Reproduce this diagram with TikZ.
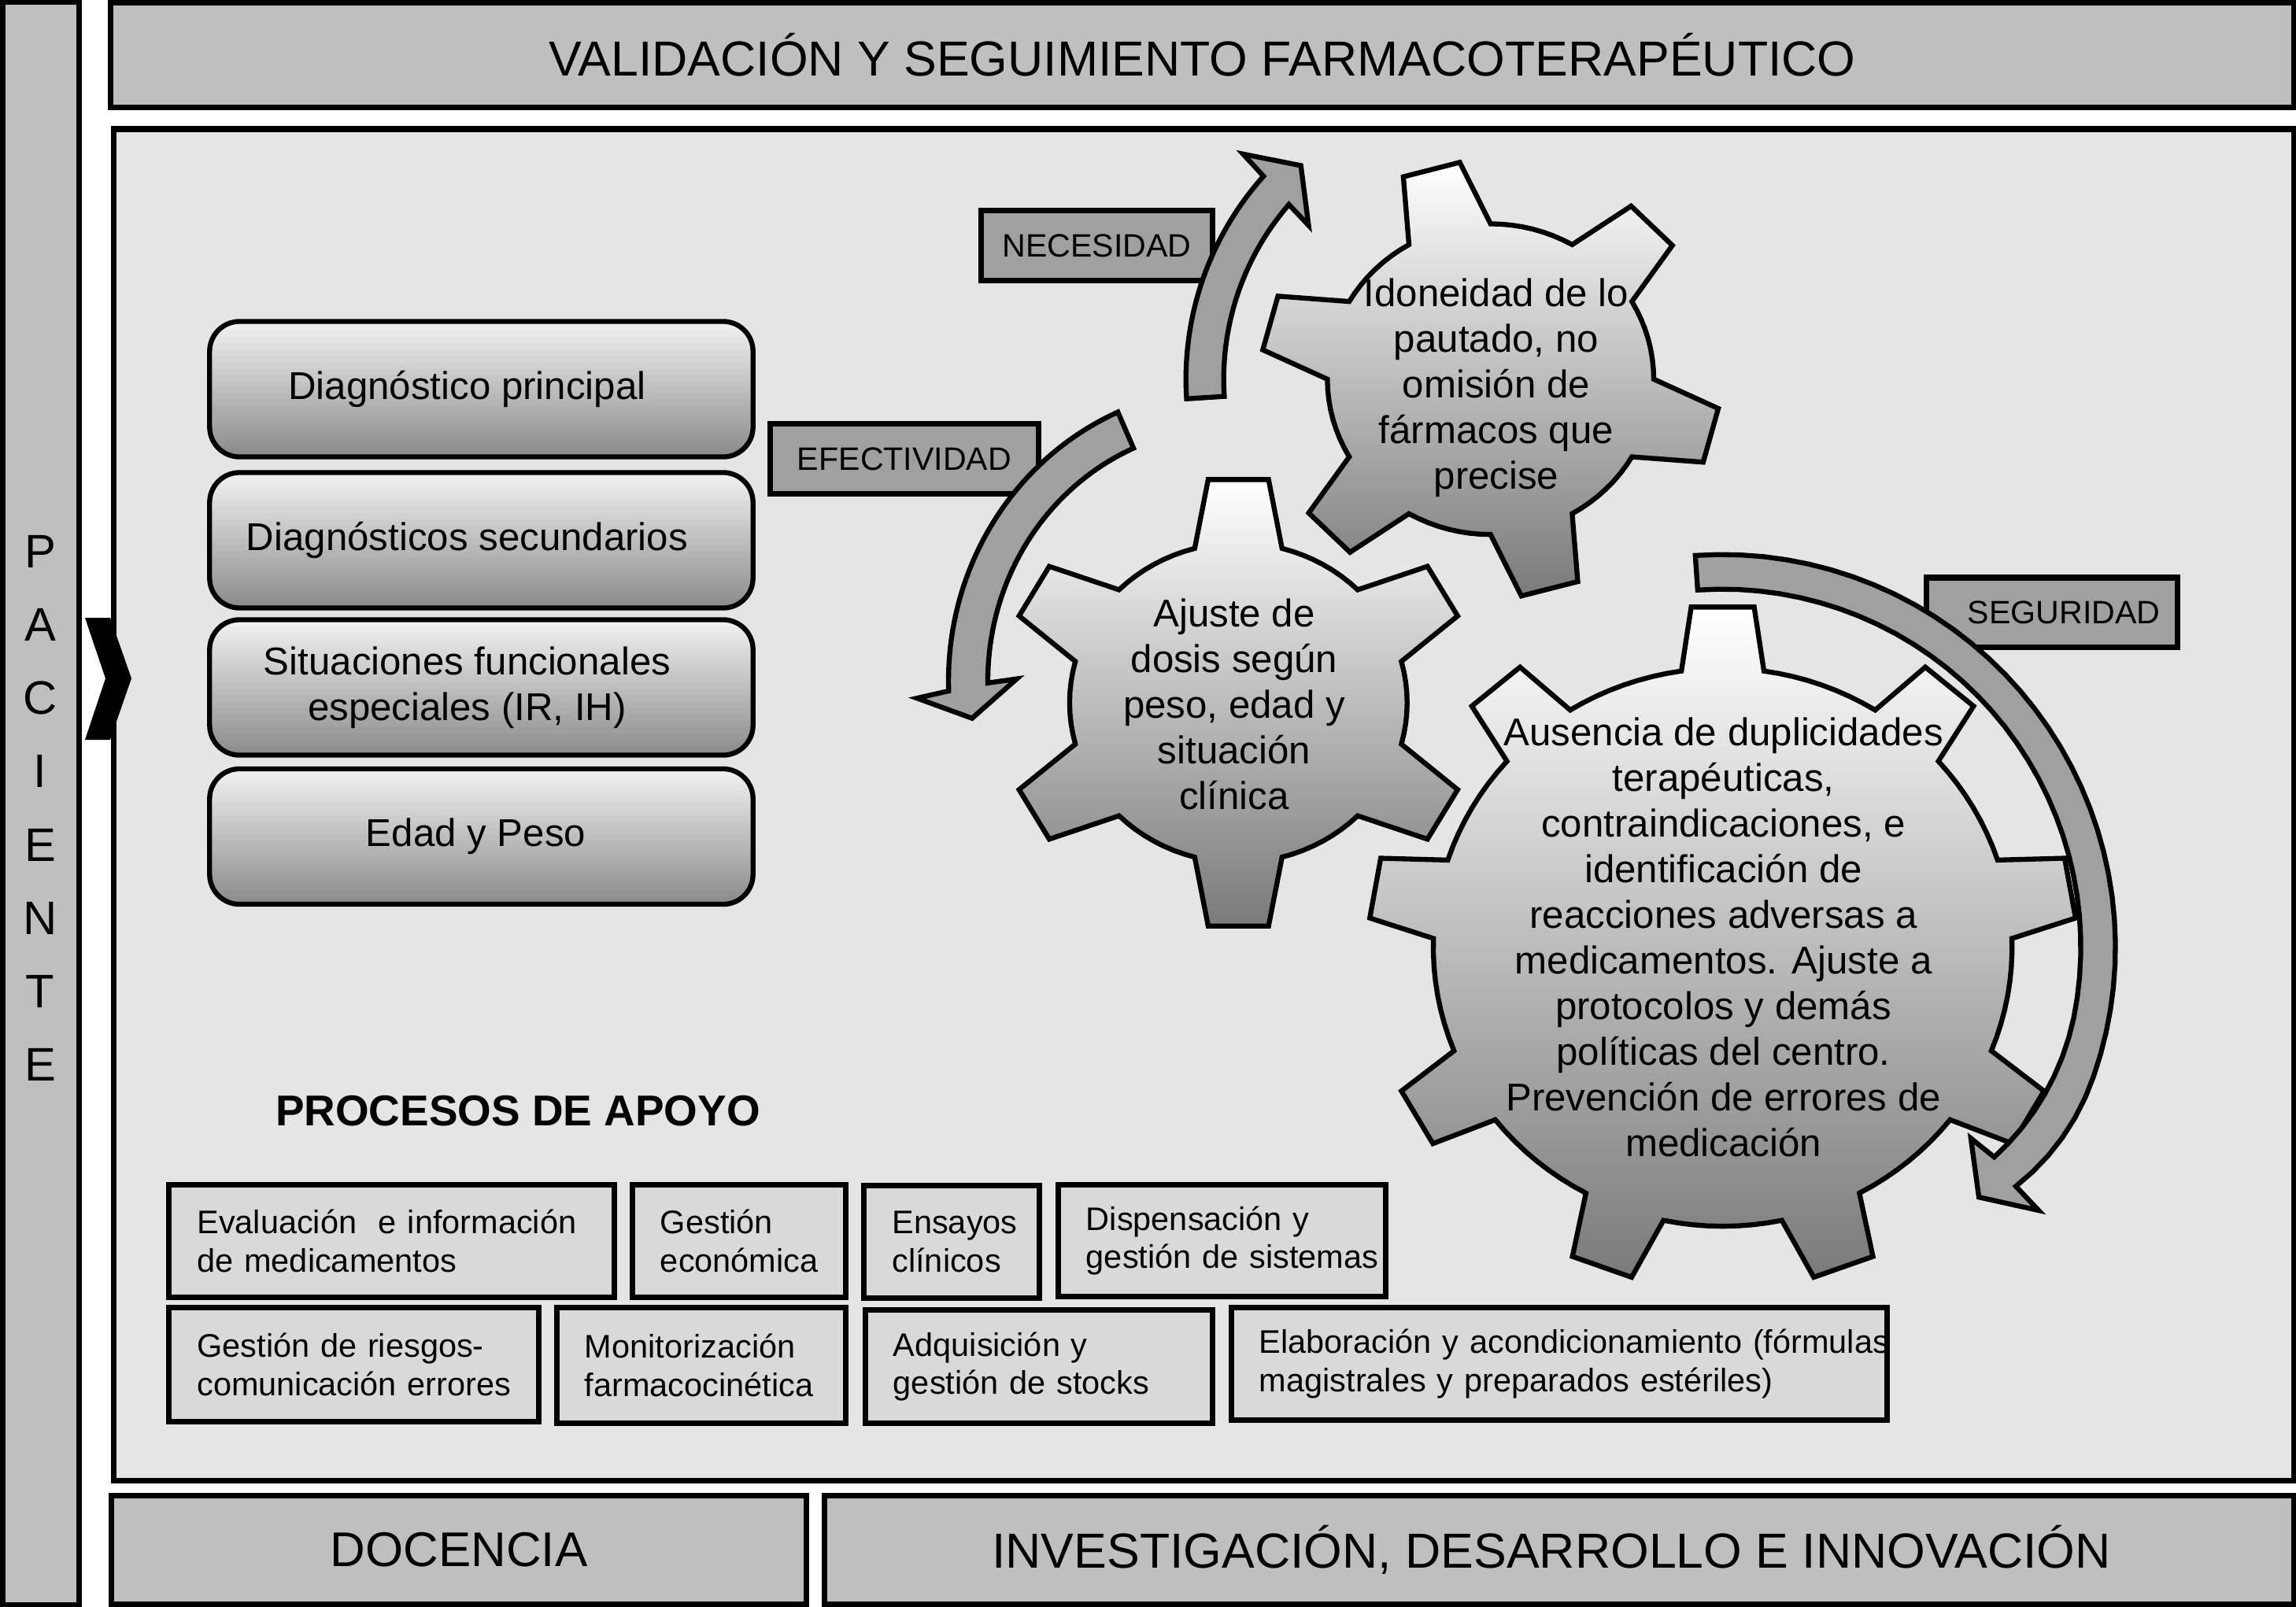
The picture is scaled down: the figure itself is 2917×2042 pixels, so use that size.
\documentclass[tikz,border=0pt]{standalone}
\usepackage{fontspec}
\setmainfont{Liberation Sans}
\usetikzlibrary{calc}
\definecolor{barg}{HTML}{BFBFBF}
\definecolor{panelg}{HTML}{E5E5E5}
\definecolor{procg}{HTML}{D9D9D9}
\definecolor{arrg}{HTML}{A0A0A0}
\definecolor{geartop}{HTML}{FFFFFF}
\definecolor{gearbot}{HTML}{7A7A7A}
\definecolor{boxtop}{HTML}{F2F2F2}
\definecolor{boxbot}{HTML}{8A8A8A}

% gear: #1 cx #2 cy #3 rx #4 ry #5 teeth #6 phase #7 body ratio #8 tip half-angle #9 base half-angle
\newcommand\mygear[9]{%
  \pgfmathsetmacro\gD{360/#5}%
  \pgfmathtruncatemacro\gN{#5-1}%
  \pgfmathsetmacro\gS{(\gD-2*#9)/8}%
  \path[gear] ({#1+#7*#3*cos(#6-#9)},{#2-#7*#4*sin(#6-#9)})
    \foreach \k in {0,...,\gN}{
      -- ({#1+#3*cos(#6+\k*\gD-#8)},{#2-#4*sin(#6+\k*\gD-#8)})
      -- ({#1+#3*cos(#6+\k*\gD+#8)},{#2-#4*sin(#6+\k*\gD+#8)})
      \foreach \j in {0,...,8}{
        -- ({#1+#7*#3*cos(#6+\k*\gD+#9+\j*\gS)},{#2-#7*#4*sin(#6+\k*\gD+#9+\j*\gS)})
      }
    } -- cycle;
}

% curved arrow, parameters given by \def's and declared functions rox, roy, rix, riy
\newcommand\bentarrow{%
  \path[arrowshape] ({\qX+rox(\qT)*cos(\qT)},{\qY-roy(\qT)*sin(\qT)})
    \foreach \q in {1,...,40}{
      -- ({\qX+rox(\qT+\q*((\qBo)-(\qT))/40)*cos(\qT+\q*((\qBo)-(\qT))/40)},{\qY-roy(\qT+\q*((\qBo)-(\qT))/40)*sin(\qT+\q*((\qBo)-(\qT))/40)})
    }
    -- ({\qX+\qOr*cos(\qOa)},{\qY-\qOr*sin(\qOa)})
    -- ({\qX+\qTr*cos(\qTa)},{\qY-\qTr*sin(\qTa)})
    -- ({\qX+\qIr*cos(\qIa)},{\qY-\qIr*sin(\qIa)})
    \foreach \q in {0,...,40}{
      -- ({\qX+rix(\qBi+\q*((\qT)-(\qBi))/40)*cos(\qBi+\q*((\qT)-(\qBi))/40)},{\qY-riy(\qBi+\q*((\qT)-(\qBi))/40)*sin(\qBi+\q*((\qT)-(\qBi))/40)})
    }
    -- cycle;
}

\begin{document}
\begin{tikzpicture}[x=0.01cm,y=-0.01cm,
  every node/.style={inner sep=0pt, outer sep=0pt},
  bar/.style={draw=black, line width=2pt, fill=barg, rectangle, font=\fontsize{17.8}{21}\selectfont},
  panel/.style={draw=black, line width=2pt, fill=panelg, rectangle},
  diagbox/.style={draw=black, line width=1.8pt, rounded corners=0.38cm, top color=boxtop, bottom color=boxbot, minimum width=6.9cm, minimum height=1.72cm, align=center, font=\fontsize{14}{16.5}\selectfont},
  lbl/.style={draw=black, line width=2pt, fill=arrg, rectangle, minimum height=0.88cm, font=\fontsize{11.7}{14}\selectfont},
  proc/.style={draw=black, line width=2pt, fill=procg, rectangle, align=left, font=\fontsize{11.8}{13.9}\selectfont},
  gear/.style={draw=black, line width=1.8pt, top color=geartop, bottom color=gearbot, line join=miter},
  gtext/.style={align=center, font=\fontsize{14}{16.5}\selectfont},
  arrowshape/.style={draw=black, line width=1.8pt, fill=arrg, line join=miter}
]
\useasboundingbox (0,0) rectangle (2917,2042);
\fill[white] (0,0) rectangle (2917,2042);

% frame
\node[bar, minimum width=0.97cm, minimum height=20.35cm] (pacbar) at (52,1021) {};
\node[align=center, font=\fontsize{17}{26.5}\selectfont] (paciente) at (51,1027) {P\\A\\C\\I\\E\\N\\T\\E};
\node[bar, minimum width=27.72cm, minimum height=1.33cm] (titulo) at (1527.5,70) {VALIDACIÓN Y SEGUIMIENTO FARMACOTERAPÉUTICO};
\node[panel, minimum width=27.68cm, minimum height=17.16cm] (panel) at (1529.5,1022.5) {};
\node[bar, minimum width=8.83cm, minimum height=1.38cm, font=\fontsize{17.6}{21}\selectfont] (docencia) at (583,1969.5) {DOCENCIA};
\node[bar, minimum width=18.65cm, minimum height=1.38cm] (idi) at (1981,1969.5) {\hspace*{-0.2cm}INVESTIGACIÓN, DESARROLLO E INNOVACIÓN};

% chevron
\fill[black] (108,785) -- (140,785) -- (167,862) -- (140,940) -- (108,940) -- (134,862) -- cycle;

% patient data
\node[diagbox] (d1) at (611.5,494.5) {\hspace*{-0.36cm}Diagnóstico principal};
\node[diagbox] (d2) at (611.5,686.5) {\hspace*{-0.36cm}Diagnósticos secundarios};
\node[diagbox] (d3) at (611.5,873.5) {\hspace*{-0.36cm}Situaciones funcionales\\\hspace*{-0.36cm}especiales (IR, IH)};
\node[diagbox] (d4) at (611.5,1063) {\hspace*{-0.14cm}Edad y Peso};

% labels
\node[lbl, minimum width=2.94cm] (nec) at (1393.5,312) {NECESIDAD};
\node[lbl, minimum width=3.41cm] (efe) at (1149,583) {EFECTIVIDAD};
\node[lbl, minimum width=3.19cm] (seg) at (2607,778) {\hspace*{0.3cm}SEGURIDAD};

% gears
\mygear{1893.7}{481.8}{292}{278}{6}{105}{0.71}{7.3}{15}
\mygear{1573.3}{893}{302}{286}{6}{90}{0.71}{7.3}{15}
\mygear{2188.6}{1203.6}{450}{434}{9}{90}{0.817}{5.1}{8.2}

% arrows
\begin{scope}[declare function={rox(\x)=387; roy(\x)=387; rix(\x)=339; riy(\x)=339;}]
\def\qX{1893.7}\def\qY{481.8}\def\qT{183.7}\def\qBo{138.2}\def\qBi{139.1}
\def\qOa{137.7}\def\qOr{425}\def\qTa{131.6}\def\qTr{363}\def\qIa{139.8}\def\qIr{302.7}
\bentarrow
\end{scope}
\begin{scope}[declare function={rox(\x)=357; roy(\x)=372; rix(\x)=307; riy(\x)=322;}]
\def\qX{1562}\def\qY{865}\def\qT{113.4}\def\qBo{182}\def\qBi{180.5}
\def\qOa{183.2}\def\qOr{397.6}\def\qTa{188.3}\def\qTr{330.5}\def\qIa{179.5}\def\qIr{270.3}
\bentarrow
\end{scope}
\begin{scope}[declare function={rox(\x)=499-17*(max(0,(-20-(\x))/18.5))^2; roy(\x)=499-17*(max(0,(-20-(\x))/18.5))^2; rix(\x)=455-20*(max(0,(-10-(\x))/28.5))^2; riy(\x)=455-20*(max(0,(-10-(\x))/28.5))^2;}]
\def\qX{2188.6}\def\qY{1203.6}\def\qT{94}\def\qBo{-39.2}\def\qBi{-37.7}
\def\qOa{-39.8}\def\qOr{522.5}\def\qTa{-44.3}\def\qTr{454.8}\def\qIa{-37.6}\def\qIr{398}
\bentarrow
\end{scope}

% gear texts
\node[gtext] (g1) at (1901,492.5) {Idoneidad de lo\\pautado, no\\omisión de\\fármacos que\\precise};
\node[gtext] (g2) at (1568,895) {Ajuste de\\dosis según\\peso, edad y\\situación\\clínica};
\node[gtext] (g3) at (2189.6,1190.6) {Ausencia de duplicidades\\terapéuticas,\\contraindicaciones, e\\identificación de\\reacciones adversas a\\medicamentos. Ajuste a\\protocolos y demás\\políticas del centro.\\Prevención de errores de\\medicación};

% support processes
\node[anchor=west, font=\bfseries\fontsize{15.6}{18}\selectfont] (apoyo) at (350,1412) {PROCESOS DE APOYO};
\node[proc, minimum width=5.65cm, minimum height=1.43cm, text width=4.94cm] (p1) at (497.5,1577) {\mbox{Evaluación\ \ e información}\\\mbox{de medicamentos}};
\node[proc, minimum width=2.71cm, minimum height=1.43cm, text width=2.00cm] (p2) at (939,1577) {\mbox{Gestión}\\\mbox{económica}};
\node[proc, minimum width=2.22cm, minimum height=1.43cm, text width=1.51cm] (p3) at (1209,1578) {\mbox{Ensayos}\\\mbox{clínicos}};
\node[proc, minimum width=4.16cm, minimum height=1.42cm, text width=3.45cm] (p4) at (1552.5,1576.5) {\mbox{Dispensación y}\\\mbox{gestión de sistemas}};
\node[proc, minimum width=4.69cm, minimum height=1.45cm, text width=3.98cm] (p5) at (449.5,1734) {\mbox{Gestión de riesgos-}\\\mbox{comunicación errores}};
\node[proc, minimum width=3.67cm, minimum height=1.47cm, text width=2.96cm] (p6) at (891,1735) {\mbox{Monitorización}\\\mbox{farmacocinética}};
\node[proc, minimum width=4.41cm, minimum height=1.44cm, text width=3.70cm] (p7) at (1320,1736.5) {\mbox{Adquisición y}\\\mbox{gestión de stocks}};
\node[proc, minimum width=8.33cm, minimum height=1.43cm, text width=7.62cm] (p8) at (1981,1733) {\mbox{Elaboración y acondicionamiento (fórmulas}\\\mbox{magistrales y preparados estériles)}};
\end{tikzpicture}
\end{document}
